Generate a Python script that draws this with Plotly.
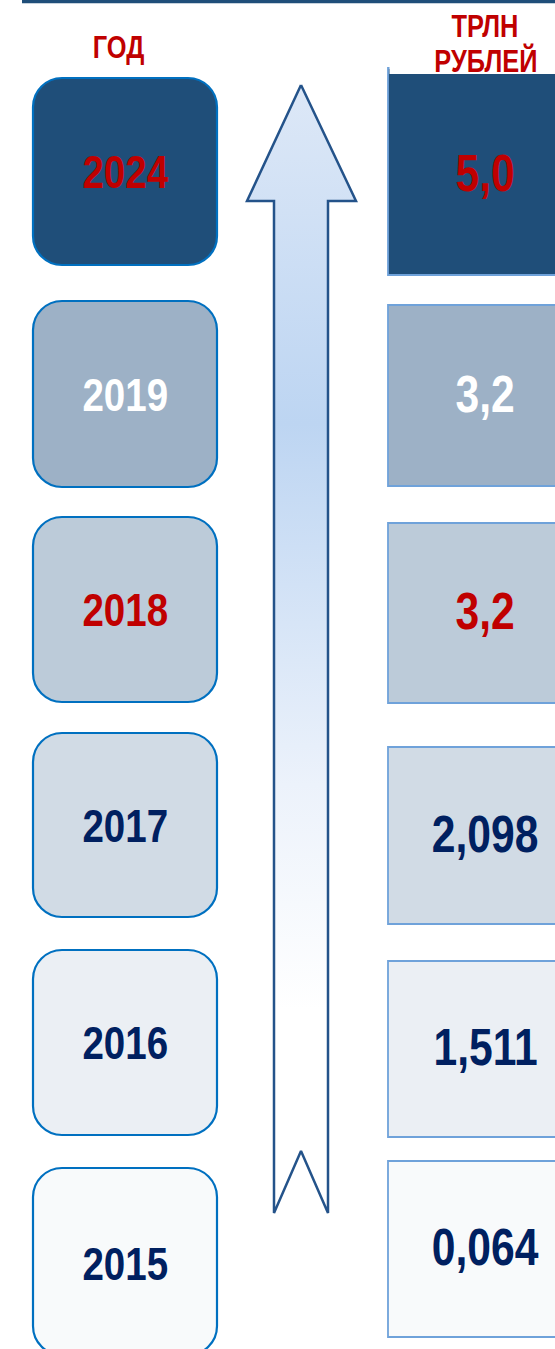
import plotly.graph_objects as go

# ---- data ----
years = ["2024", "2019", "2018", "2017", "2016", "2015"]
values = ["5,0", "3,2", "3,2", "2,098", "1,511", "0,064"]
year_header = "ГОД"
value_header = ["ТРЛН", "РУБЛЕЙ"]

# ---- styles ----
box_fills = ["#1F4E79", "#9DB1C6", "#BCCBD9", "#D1DBE5", "#EBEFF4", "#F8FAFB"]
text_colors = ["#C00000", "#FFFFFF", "#C00000", "#002060", "#002060", "#002060"]
RED = "#C00000"
DARK = "#1F4E79"
FONT = "Liberation Sans, Arial, sans-serif"

# ---- layout positions (pixels) ----
W, H = 555, 1349
left_x = (33, 217)
left_rows = [(78, 265), (301, 487), (517, 702), (733, 917), (950, 1135), (1168, 1355)]
right_x = (388, 562)
right_rows = [(68, 275), (305, 486), (523, 703), (747, 924), (961, 1137), (1161, 1337)]


def rounded_rect(x0, y0, x1, y1, r):
    k = 0.5523 * r
    return (f"M {x0+r},{y0} L {x1-r},{y0} C {x1-r+k},{y0} {x1},{y0+r-k} {x1},{y0+r} "
            f"L {x1},{y1-r} C {x1},{y1-r+k} {x1-r+k},{y1} {x1-r},{y1} "
            f"L {x0+r},{y1} C {x0+r-k},{y1} {x0},{y1-r+k} {x0},{y1-r} "
            f"L {x0},{y0+r} C {x0},{y0+r-k} {x0+r-k},{y0} {x0+r},{y0} Z")


fig = go.Figure()

# arrow with vertical gradient
ax = [301, 356, 328, 328, 301, 274, 274, 247, 301]
ay = [85, 201, 201, 1213, 1151, 1213, 201, 201, 85]
fig.add_trace(go.Scatter(
    x=ax, y=ay, mode="lines", fill="toself",
    line=dict(color="#24538A", width=2.5),
    fillgradient=dict(type="vertical", start=85, stop=1213,
                      colorscale=[[0, "#DDE8F7"], [0.3, "#BDD5F2"],
                                  [0.62, "#ECF2FB"], [0.82, "#FFFFFF"], [1, "#FFFFFF"]]),
    hoverinfo="skip", showlegend=False))

shapes = []
annotations = []

# top rule
shapes.append(dict(type="rect", x0=22, x1=W + 5, y0=-2, y1=3.3,
                   fillcolor=DARK, line=dict(width=0), layer="above"))

for i, (yr, val) in enumerate(zip(years, values)):
    t, b = left_rows[i]
    shapes.append(dict(type="path", path=rounded_rect(left_x[0], t, left_x[1], b, 29),
                       fillcolor=box_fills[i], line=dict(color="#0070C0", width=2.2),
                       layer="above"))
    annotations.append(dict(x=(left_x[0] + left_x[1]) / 2 + 0.5,
                            y=1263 if i == 5 else (t + b) / 2,
                            text=f"<b>{yr}</b>", showarrow=False,
                            font=dict(family=FONT, size=47, color=text_colors[i]),
                            xanchor="center", yanchor="middle"))
    rt, rb = right_rows[i]
    shapes.append(dict(type="rect", x0=right_x[0], x1=right_x[1], y0=rt, y1=rb,
                       fillcolor=box_fills[i], line=dict(color="#6FA2DA", width=1.8),
                       layer="above"))
    annotations.append(dict(x=485, y=(max(rt, 74) + rb) / 2 - 2,
                            text=f"<b>{val}</b>", showarrow=False,
                            font=dict(family=FONT, size=52, color=text_colors[i]),
                            xanchor="center", yanchor="middle"))

# white band behind value header covering top of first right box
shapes.append(dict(type="rect", x0=389.5, x1=W + 5, y0=5, y1=74,
                   fillcolor="#FFFFFF", line=dict(width=0), layer="above"))

# headers
annotations.append(dict(x=118, y=47, text=f"<b>{year_header}</b>", showarrow=False,
                        font=dict(family=FONT, size=31, color=RED),
                        xanchor="center", yanchor="middle"))
annotations.append(dict(x=484.5, y=26, text=f"<b>{value_header[0]}</b>", showarrow=False,
                        font=dict(family=FONT, size=31, color=RED),
                        xanchor="center", yanchor="middle"))
annotations.append(dict(x=485.5, y=61, text=f"<b>{value_header[1]}</b>", showarrow=False,
                        font=dict(family=FONT, size=31, color=RED),
                        xanchor="center", yanchor="middle"))

fig.update_layout(
    width=W, height=H, margin=dict(l=0, r=0, t=0, b=0),
    paper_bgcolor="#FFFFFF", plot_bgcolor="#FFFFFF",
    xaxis=dict(range=[0, W], visible=False, fixedrange=True),
    yaxis=dict(range=[H, 0], visible=False, fixedrange=True),
    shapes=shapes, annotations=annotations, showlegend=False,
)

# remove page margin and render the bold sans as a narrow face (Arial Narrow = 82% Arial)
post = (
    "var s=document.createElement('style');"
    "s.textContent='html,body{margin:0;padding:0;overflow:hidden}"
    " .annotation-text{transform-box:fill-box;transform-origin:center;transform:scaleX(0.82);}';"
    "document.head.appendChild(s);"
)

fig.write_html("out.html", post_script=post, config={"displayModeBar": False})
